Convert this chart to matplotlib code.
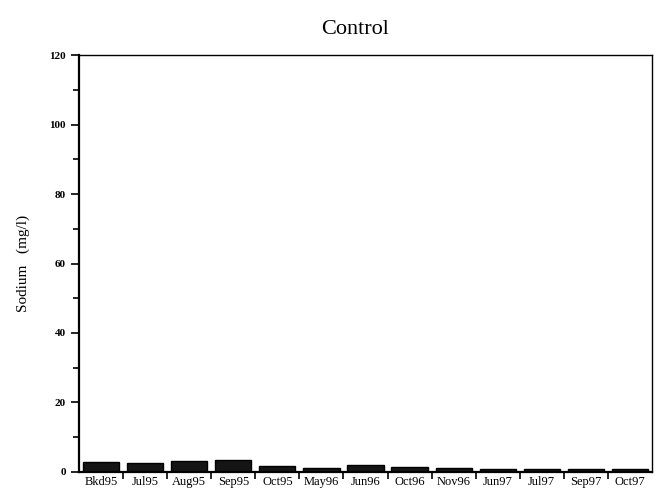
import matplotlib.pyplot as plt
import numpy as np

# sampling dates and sodium values (mg/l)
dates = ["Bkd95", "Jul95", "Aug95", "Sep95", "Oct95", "May96", "Jun96",
         "Oct96", "Nov96", "Jun97", "Jul97", "Sep97", "Oct97"]
sodium = [2.9, 2.6, 3.2, 3.4, 1.7, 1.2, 2.0, 1.4, 1.1, 0.9, 0.9, 0.9, 0.9]

fig = plt.figure(figsize=(6.55, 4.93), dpi=100)
ax = fig.add_axes([0.121, 0.043, 0.874, 0.845])

ind = np.arange(len(dates))
ax.bar(ind, sodium, width=0.82, color="#151515", edgecolor="#000000")

ax.set_xlim(-0.5, len(dates) - 0.5)
ax.set_ylim(0, 120)
ax.set_yticks(np.arange(0, 121, 20))
ax.set_yticks(np.arange(10, 120, 20), minor=True)
ax.set_xticks(ind)
ax.set_xticklabels(dates, family="Liberation Serif", fontsize=9)
ax.set_xticks(ind[:-1] + 0.5, minor=True)
ax.tick_params(axis="x", which="major", length=0, pad=3)
ax.tick_params(axis="x", which="minor", length=5, width=1.2, direction="out")
ax.tick_params(axis="y", which="major", length=6, width=1.2, direction="out", labelsize=8)
ax.tick_params(axis="y", which="minor", length=4, width=1.2, direction="out")
for lab in ax.get_yticklabels():
    lab.set_family("Liberation Serif")
    lab.set_weight("bold")

for s in ["left", "bottom"]:
    ax.spines[s].set_linewidth(1.6)
for s in ["top", "right"]:
    ax.spines[s].set_linewidth(1.0)

ax.set_ylabel("Sodium   (mg/l)", fontsize=11, family="Liberation Serif", labelpad=14)
fig.text(0.542, 0.94, "Control", ha="center", va="center",
         fontsize=16, family="Liberation Serif")

plt.savefig("out.png", dpi=100)
